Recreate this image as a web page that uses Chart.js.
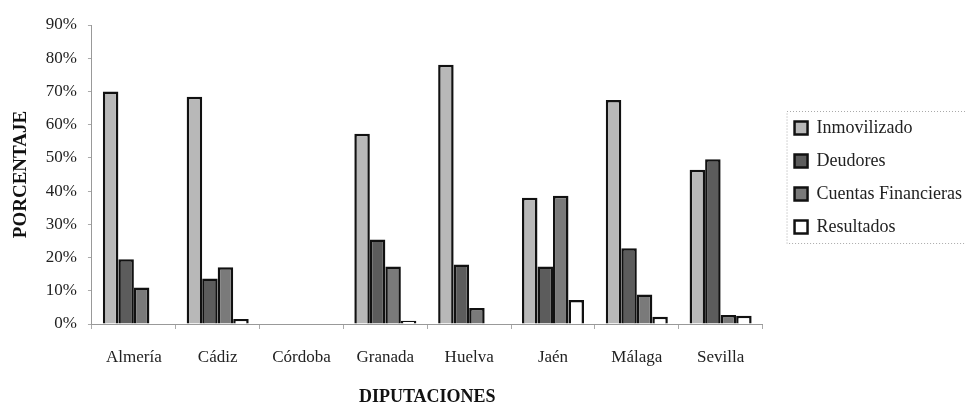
<!DOCTYPE html>
<html>
<head>
<meta charset="utf-8">
<script src="https://cdn.jsdelivr.net/npm/chart.js@4"></script>
<style>
  html, body { margin: 0; padding: 0; background: #fff; }
  #wrap { width: 965px; height: 403px; }
</style>
</head>
<body>
<div id="wrap"><canvas id="grafico"></canvas></div>
<script>
// Datos
const diputaciones = ['Almería', 'Cádiz', 'Córdoba', 'Granada', 'Huelva', 'Jaén', 'Málaga', 'Sevilla'];
const inmovilizado = [70, 68.4, null, 57.3, 78, 38, 67.4, 46.4];
const deudores = [19.5, 13.7, null, 25.4, 17.9, 17.3, 22.8, 49.6];
const cuentasFinancieras = [11, 17.1, null, 17.3, 4.8, 38.6, 8.9, 2.7];
const resultados = [null, 1.5, null, 1, null, 7.2, 2.2, 2.5];
const ticksY = [0, 10, 20, 30, 40, 50, 60, 70, 80, 90];

const fuente = "'Liberation Serif', 'DejaVu Serif', serif";

// la leyenda se corre un poco (en el original sale cortada por la derecha)
const moverLeyenda = {
    id: 'moverLeyenda',
    afterLayout(chart) {
        const l = chart.legend;
        if (!l) return;
        l.left += 17; l.right += 17;
        l.top -= 39; l.bottom -= 39;
    },
    afterDraw(chart) {
        const l = chart.legend;
        if (!l || !l.legendHitBoxes || !l.legendHitBoxes.length) return;
        const hb = l.legendHitBoxes;
        const x0 = hb[0].left - 7.5;
        const y0 = Math.round(hb[0].top + hb[0].height / 2 - 17) + 0.5;
        const last = hb[hb.length - 1];
        const y1 = Math.round(last.top + last.height / 2 + 16) + 0.5;
        const c = chart.ctx;
        c.save();
        c.strokeStyle = '#aaa';
        c.lineWidth = 1;
        c.setLineDash([1, 2]);
        c.beginPath();
        c.moveTo(chart.width, y0);
        c.lineTo(x0, y0);
        c.lineTo(x0, y1);
        c.lineTo(chart.width, y1);
        c.stroke();
        c.restore();
    }
};

const serie = (label, data, color) => ({
    label: label,
    data: data,
    backgroundColor: color,
    borderColor: '#111',
    borderWidth: 2.5,
    borderSkipped: 'bottom'
});

new Chart(document.getElementById('grafico'), {
    type: 'bar',
    data: {
        labels: diputaciones,
        datasets: [
            serie('Inmovilizado', inmovilizado, '#b8b8b8'),
            serie('Deudores', deudores, '#5c5c5c'),
            serie('Cuentas Financieras', cuentasFinancieras, '#7a7a7a'),
            serie('Resultados', resultados, '#ffffff')
        ]
    },
    plugins: [moverLeyenda],
    options: {
        responsive: true,
        maintainAspectRatio: false,
        animation: false,
        datasets: { bar: { categoryPercentage: 0.74, barPercentage: 1 } },
        layout: { padding: { top: 25, left: 6, bottom: -5, right: 10 } },
        plugins: {
            tooltip: { enabled: false },
            legend: {
                position: 'right',
                align: 'center',
                labels: {
                    color: '#222',
                    font: { family: fuente, size: 18 },
                    boxWidth: 13,
                    boxHeight: 13,
                    padding: 15,
                    useBorderRadius: false
                }
            }
        },
        scales: {
            x: {
                grid: { display: true, offset: true, drawOnChartArea: false, tickLength: 5, color: '#aaa' },
                border: { color: '#999', dash: [1, 2] },
                ticks: { color: '#222', font: { family: fuente, size: 17 }, padding: 18 },
                title: {
                    display: true,
                    text: 'DIPUTACIONES',
                    color: '#111',
                    font: { family: fuente, size: 18, weight: 'bold' },
                    padding: { top: 1, bottom: 0 }
                }
            },
            y: {
                min: 0,
                max: 90,
                afterBuildTicks: (axis) => { axis.ticks = ticksY.map(v => ({ value: v })); },
                grid: { drawOnChartArea: false, tickLength: 4, color: '#aaa' },
                border: { color: '#999', dash: [1, 2] },
                ticks: {
                    color: '#222',
                    font: { family: fuente, size: 17 },
                    padding: 11,
                    callback: (v) => v + '%'
                },
                title: {
                    display: true,
                    text: 'PORCENTAJE',
                    color: '#111',
                    font: { family: fuente, size: 19, weight: 'bold' },
                    padding: { bottom: 2 }
                }
            }
        }
    }
});
</script>
</body>
</html>
